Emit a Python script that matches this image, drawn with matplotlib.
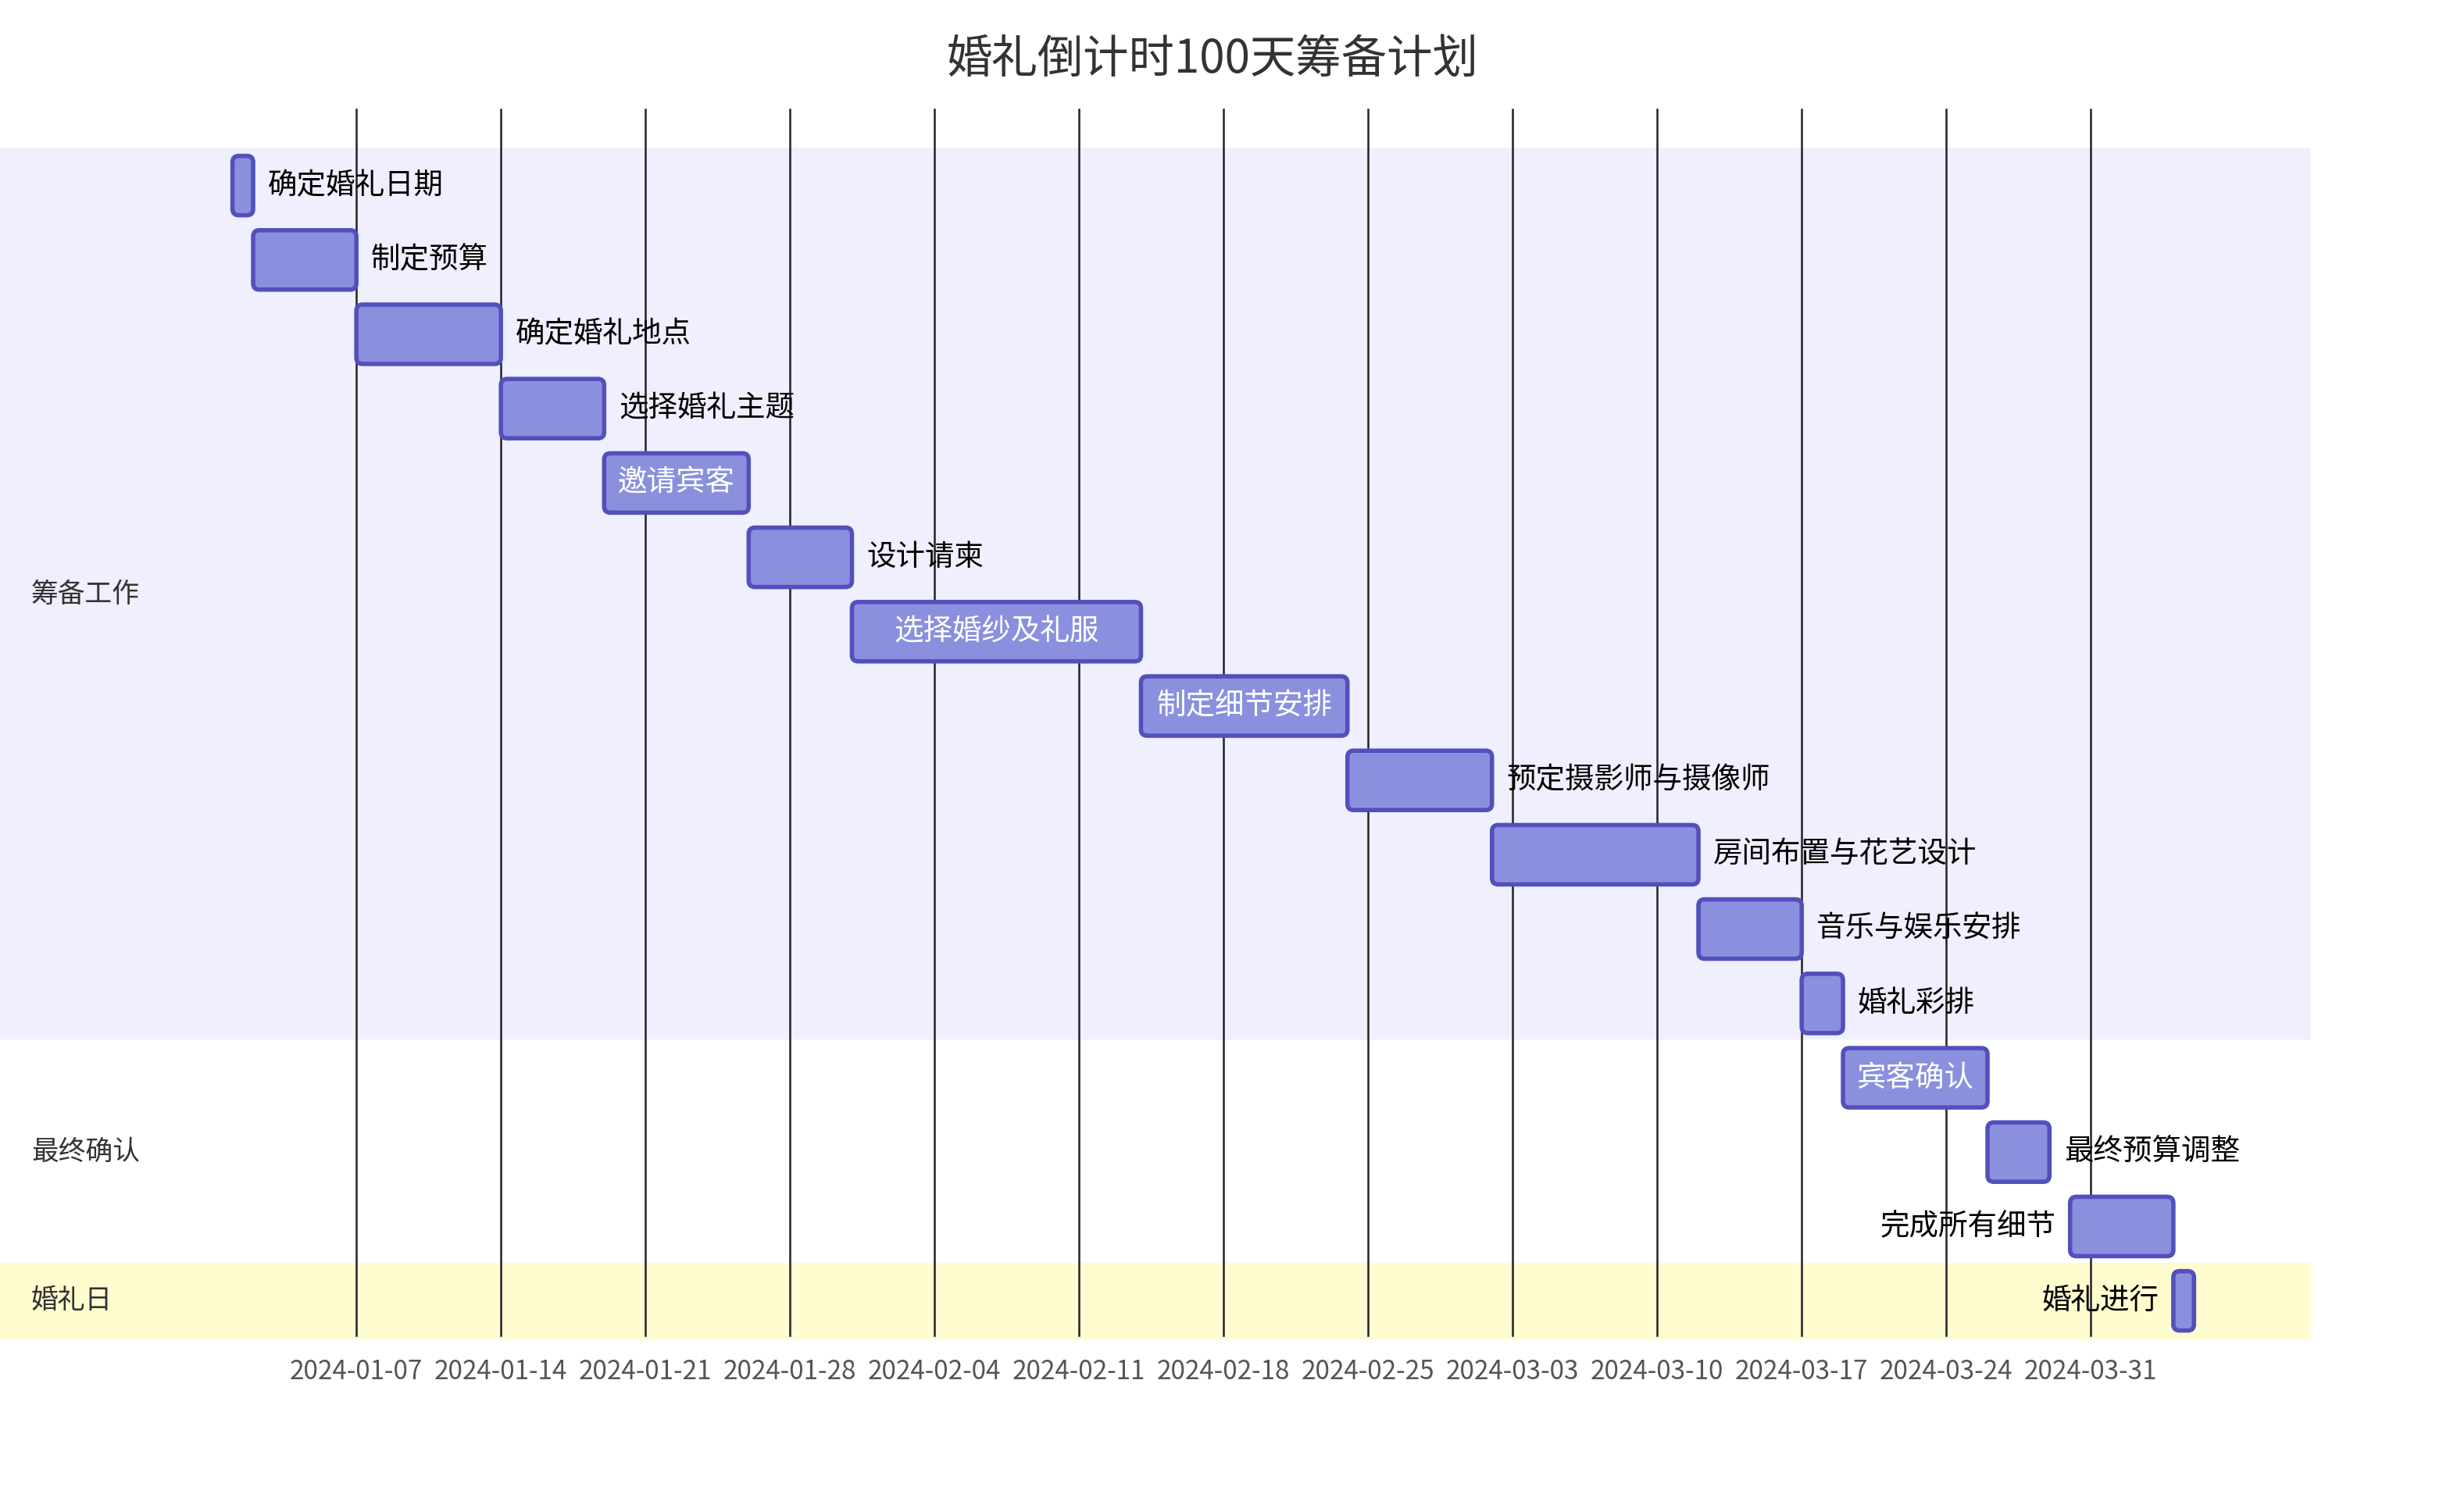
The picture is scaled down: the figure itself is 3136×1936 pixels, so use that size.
import datetime as dt

import matplotlib

matplotlib.use("Agg")

import matplotlib.pyplot as plt
import matplotlib.dates as mdates
from matplotlib import font_manager
from matplotlib.patches import FancyBboxPatch

cjk = [f for f in font_manager.fontManager.ttflist if "CJK" in f.name and " SC" in f.name]
if not cjk:
    cjk = [f for f in font_manager.fontManager.ttflist if "CJK" in f.name or "CJK" in f.fname]
if cjk:
    font_manager.fontManager.addfont(cjk[0].fname)
    plt.rcParams["font.family"] = [cjk[0].name, "DejaVu Sans"]

TASKS = ["确定婚礼日期", "制定预算", "确定婚礼地点", "选择婚礼主题", "邀请宾客", "设计请柬",
         "选择婚纱及礼服", "制定细节安排", "预定摄影师与摄像师", "房间布置与花艺设计",
         "音乐与娱乐安排", "婚礼彩排", "宾客确认", "最终预算调整", "完成所有细节", "婚礼进行"]
STARTS = ["2024-01-01", "2024-01-02", "2024-01-07", "2024-01-14", "2024-01-19", "2024-01-26",
          "2024-01-31", "2024-02-14", "2024-02-24", "2024-03-02", "2024-03-12", "2024-03-17",
          "2024-03-19", "2024-03-26", "2024-03-30", "2024-04-04"]
DAYS = [1, 5, 7, 5, 7, 5, 14, 10, 7, 10, 5, 2, 7, 3, 5, 1]
LABEL_POS = ["right", "right", "right", "right", "inside", "right", "inside", "inside",
             "right", "right", "right", "right", "inside", "right", "left", "left"]
SECTIONS = [("筹备工作", 0, 12, "#efeffd"), ("最终确认", 12, 15, "#ffffff"), ("婚礼日", 15, 16, "#fffcd0")]
TICKS = ["2024-01-07", "2024-01-14", "2024-01-21", "2024-01-28", "2024-02-04", "2024-02-11",
         "2024-02-18", "2024-02-25", "2024-03-03", "2024-03-10", "2024-03-17", "2024-03-24",
         "2024-03-31"]

W, H = 1568, 968
PX_PER_DAY = 92.5 / 7
origin = mdates.date2num(dt.date(2024, 1, 1))
x0 = 148.8


def xnum(px):
    return origin + (px - x0) / PX_PER_DAY


fig = plt.figure(figsize=(W / 100, H / 100), dpi=200)
ax = fig.add_axes([0, 0, 1, 1])
ax.set_xlim(xnum(0), xnum(W))
ax.set_ylim(H, 0)
ax.axis("off")

row_h = 47.6
top = 95
for name, a, b, color in SECTIONS:
    ax.axhspan(top + a * row_h, top + b * row_h, xmin=0, xmax=1478 / W, color=color, zorder=0)
    ax.text(xnum(20), top + (a + b) / 2 * row_h, name, fontsize=12.5, color="#333333",
            va="center", ha="left")

for t in TICKS:
    d = mdates.date2num(dt.date.fromisoformat(t))
    ax.plot([d, d], [70, 855], color="#222222", lw=0.9, zorder=1)
    ax.text(d, 878, t, fontsize=12, color="#555555", ha="center", va="center")

for i, (task, s, n, pos) in enumerate(zip(TASKS, STARTS, DAYS, LABEL_POS)):
    d = mdates.date2num(dt.date.fromisoformat(s))
    yc = top + (i + 0.5) * row_h
    box = FancyBboxPatch((d, yc - 19), n, 38,
                         boxstyle="round,pad=0,rounding_size=0.3",
                         mutation_aspect=PX_PER_DAY,
                         facecolor="#8a90dd", edgecolor="#534fbc", lw=2.0, zorder=3)
    ax.add_patch(box)
    if pos == "inside":
        ax.text(d + n / 2, yc, task, fontsize=13.5, color="white", ha="center", va="center", zorder=4)
    elif pos == "right":
        ax.text(d + n + 0.7, yc, task, fontsize=13.5, color="black", ha="left", va="center", zorder=4)
    else:
        ax.text(d - 0.7, yc, task, fontsize=13.5, color="black", ha="right", va="center", zorder=4)

ax.text(xnum(W / 2 - 8), 38, "婚礼倒计时100天筹备计划", fontsize=21, color="#333333",
        ha="center", va="center")

fig.savefig("out.png")
